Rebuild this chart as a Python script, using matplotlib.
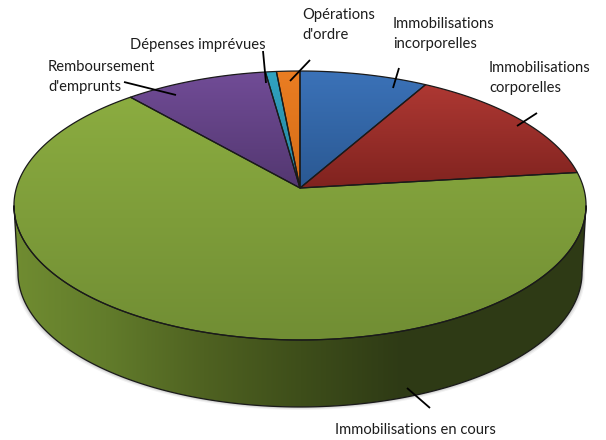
import numpy as np
import matplotlib
matplotlib.use("Agg")
import matplotlib.pyplot as plt
from matplotlib.colors import LinearSegmentedColormap
from matplotlib.patches import Polygon

labels = [
    "Immobilisations\nincorporelles",
    "Immobilisations\ncorporelles",
    "Immobilisations en cours",
    "Remboursement\nd'emprunts",
    "Dépenses imprévues",
    "Opérations\nd'ordre",
]
shares = [8.2, 14.9, 65.5, 9.2, 0.7, 1.5]
light = ["#3b72b8", "#ae3833", "#8bac40", "#714c97", "#30a3c2", "#ea7d22"]
dark = ["#2a5892", "#80231f", "#718e34", "#533770", "#27839c", "#d56d17"]

label_pos = [(393, 34), (489, 78), (335, 430), (48, 77), (130, 45), (302, 25)]
leaders = [
    ((399, 68), (393, 88)),
    ((537, 113), (517, 126)),
    ((430, 408), (407, 388)),
    ((124, 82), (176, 95)),
    ((263, 51), (266, 83)),
    ((310, 60), (290, 81)),
]

# perspective of the disc, the apex is not the middle of the ellipse
CX, CY = 300, 188
A, B, PERSP = 283.6, 132.2, 0.13
DEPTH = 67


def project(theta):
    u, v = np.sin(theta), np.cos(theta)
    w = 1 + PERSP * v
    return CX + A * u / w, CY - B * v / w


def gradient_fill(ax, poly, c1, c2, horizontal=False, stops=None):
    """Polygon filled with a linear gradient, clipped imshow."""
    xmin, ymin = poly.min(axis=0)
    xmax, ymax = poly.max(axis=0)
    cmap = LinearSegmentedColormap.from_list("g", stops if stops else [c1, c2])
    grad = np.linspace(0, 1, 256)
    grad = grad[None, :] if horizontal else grad[:, None]
    im = ax.imshow(
        grad, cmap=cmap, extent=(xmin, xmax, ymax, ymin), aspect="auto",
        interpolation="bilinear", zorder=2,
    )
    patch = Polygon(poly, closed=True, transform=ax.transData)
    im.set_clip_path(patch)
    ax.add_patch(Polygon(poly, closed=True, fill=False, edgecolor="#1a1a1a", lw=0.9, zorder=3))


plt.rcParams["font.family"] = ["Lato", "DejaVu Sans"]
fig = plt.figure(figsize=(6.06, 4.4), dpi=100)
ax = fig.add_axes([0, 0, 1, 1])

# side of the pie
t = np.linspace(0, 2 * np.pi, 721)
rx, ry = project(t)
mid_y = (ry.min() + ry.max()) / 2
low = ry >= mid_y
top_x, top_y = rx[low], ry[low]
idx = np.argsort(top_x)
top_x, top_y = top_x[idx], top_y[idx]
bot_x = CX + (top_x - CX) * 0.986
bot_y = top_y + DEPTH

# soft shadow under the rim
for grow, alpha in [(3.0, 0.05), (2.0, 0.07), (1.0, 0.10)]:
    shadow = np.vstack([
        np.column_stack([top_x, top_y]),
        np.column_stack([CX + (bot_x - CX) * (1 + grow / 282), bot_y + grow])[::-1],
    ])
    ax.add_patch(Polygon(shadow, closed=True, fc="black", ec="none", alpha=alpha, zorder=1))

side = np.vstack([np.column_stack([top_x, top_y]), np.column_stack([bot_x, bot_y])[::-1]])
gradient_fill(
    ax, side, None, None, horizontal=True,
    stops=[(0, "#708c31"), (0.16, "#627c2b"), (0.33, "#4f6221"), (0.5, "#3e4e1a"),
           (0.68, "#2e3a15"), (1, "#2f3b16")],
)

# top faces
edges = np.cumsum([0] + shares) / 100 * 2 * np.pi
for i in range(len(shares)):
    th = np.linspace(edges[i], edges[i + 1], max(3, int(shares[i] * 8)))
    x, y = project(th)
    poly = np.vstack([[CX, CY], np.column_stack([x, y])])
    gradient_fill(ax, poly, light[i], dark[i])

for start, end in leaders:
    ax.plot([start[0], end[0]], [start[1], end[1]], color="black", lw=1.3, zorder=4,
            solid_capstyle="butt")

for lab, (x, y) in zip(labels, label_pos):
    ax.text(x, y, lab, fontsize=10.6, color="#1c1c1c", ha="left", va="center",
            linespacing=1.6, zorder=5)

ax.set_xlim(0, 606)
ax.set_ylim(440, 0)
ax.axis("off")
fig.savefig("out.png", dpi=100, facecolor="white")
